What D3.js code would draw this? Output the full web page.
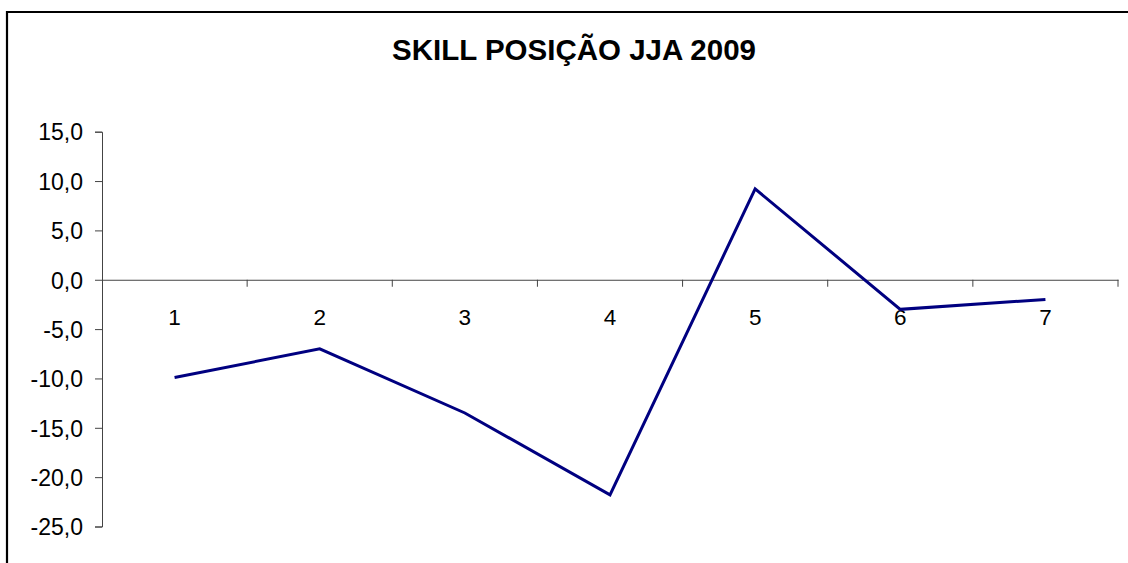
<!DOCTYPE html>
<html><head><meta charset="utf-8">
<script src="https://cdn.jsdelivr.net/npm/d3@7"></script>
<style>html,body{margin:0;padding:0;background:#fff;overflow:hidden}</style>
</head><body>
<svg id="c" width="1128" height="563"></svg>
<script>
const categories = ["1","2","3","4","5","6","7"];
const values = [-9.9, -7.0, -13.5, -21.8, 9.2, -3.0, -2.0];
const yTicks = [15, 10, 5, 0, -5, -10, -15, -20, -25];
const title = "SKILL POSIÇÃO JJA 2009";

(function () {
const svg = d3.select("#c");
const font = "'Liberation Sans', Arial, sans-serif";
const pLeft = 102, pRight = 1118, pTop = 131.7, pBottom = 526.5;

// frame
svg.append("path").attr("d", "M7,563 V12 H1128")
  .attr("fill", "none").attr("stroke", "#000").attr("stroke-width", 2.2);

svg.append("text").attr("x", 574).attr("y", 60).attr("text-anchor", "middle")
  .attr("font-family", font).attr("font-weight", "bold").attr("font-size", 29.5)
  .attr("fill", "#000").text(title);

const x = d3.scaleBand().domain(categories).range([pLeft, pRight]).paddingInner(0).paddingOuter(0);
const y = d3.scaleLinear().domain([-25, 15]).range([pBottom, pTop]);

// y axis
const yAx = svg.append("g").attr("transform", `translate(${pLeft},0)`)
  .call(d3.axisLeft(y).tickValues(yTicks).tickSize(7).tickPadding(12)
    .tickFormat(d => d3.format(".1f")(d).replace(".", ",").replace("−", "-")));
yAx.select(".domain").attr("stroke", "#444").attr("stroke-width", 1);
yAx.selectAll(".tick line").attr("stroke", "#444");
yAx.selectAll("text").attr("font-family", font).attr("font-size", 23).attr("fill", "#000")
  .attr("dy", "0.36em");

// x axis at zero
const xAx = svg.append("g").attr("transform", `translate(0,${y(0)})`)
  .call(d3.axisBottom(x).tickSize(0).tickPadding(30));
xAx.select(".domain").attr("stroke", "#444").attr("stroke-width", 1);
xAx.selectAll("text").attr("font-family", font).attr("font-size", 22.5).attr("fill", "#000")
  .attr("dy", null).attr("y", 45);
// tick marks at category boundaries
const bounds = categories.map(c => x(c) + x.bandwidth());
svg.append("g").selectAll("line").data(bounds).join("line")
  .attr("x1", d => d).attr("x2", d => d)
  .attr("y1", y(0)).attr("y2", y(0) + 7)
  .attr("stroke", "#444").attr("stroke-width", 1);

// line
const line = d3.line().x((d, i) => x(categories[i]) + x.bandwidth() / 2).y(d => y(d));
svg.append("path").datum(values).attr("d", line)
  .attr("fill", "none").attr("stroke", "#000080").attr("stroke-width", 3)
  .attr("stroke-linejoin", "miter");
})();
</script>
</body></html>
